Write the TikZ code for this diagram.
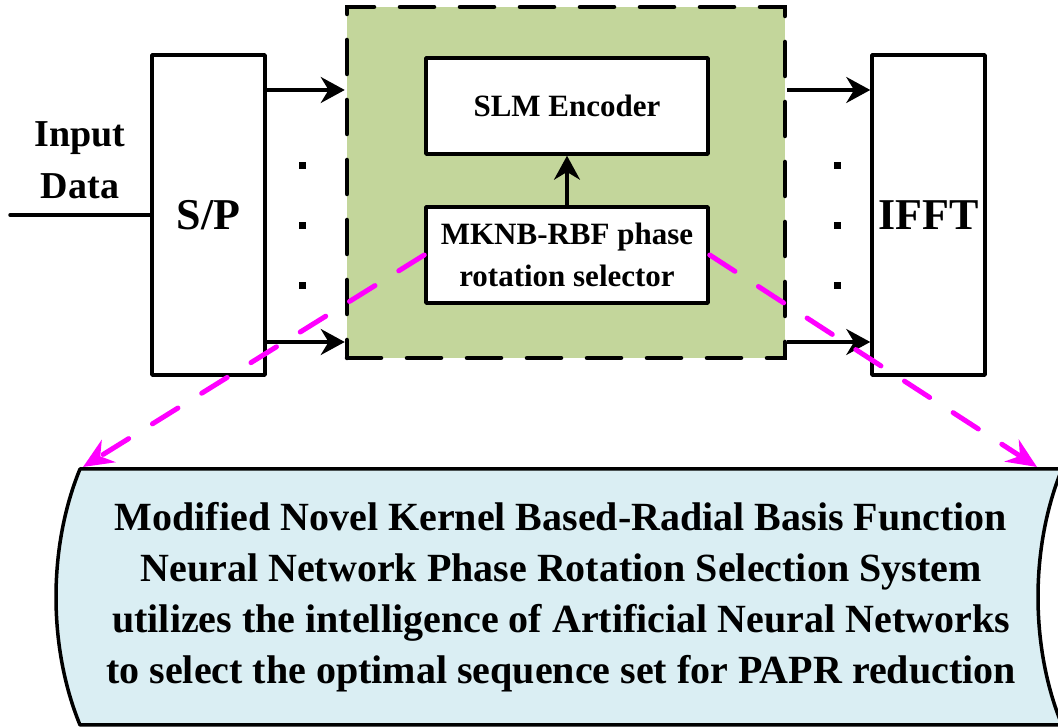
\documentclass[tikz,border=0pt]{standalone}
\usepackage{fontspec}
\setmainfont{Liberation Serif}
\usetikzlibrary{positioning,arrows.meta,calc}
\definecolor{chainfill}{HTML}{C3D69B}
\definecolor{notefill}{HTML}{DAEEF3}
\definecolor{zoomcolor}{HTML}{FF00FF}
\newcommand{\PortFont}{\fontsize{44pt}{50pt}\selectfont\bfseries}
\newcommand{\BlockFont}{\fontsize{31pt}{42pt}\selectfont\bfseries}
\newcommand{\InputFont}{\fontsize{38pt}{52pt}\selectfont\bfseries}
\newcommand{\NoteFont}{\fontsize{40pt}{51pt}\selectfont\bfseries}
\tikzset{
  port block/.style={
    draw, fill=white, line width=3.5pt, inner sep=0pt, line join=round,
    minimum width=113pt, minimum height=320pt, font=\PortFont
  },
  inner block/.style={
    draw, fill=white, line width=3.5pt, inner sep=0pt, align=center,
    line join=round, minimum width=282pt, minimum height=96pt,
    font=\BlockFont
  },
  chain box/.style={
    draw, fill=chainfill, line width=4.5pt, line cap=round,
    dash pattern=on 34pt off 26pt,
    minimum width=438pt, minimum height=351pt, inner sep=0pt
  },
  flow arrow/.style={-{Stealth[length=24pt,width=26pt]}, line width=3.5pt},
  zoom arrow/.style={
    -{Stealth[length=30pt,width=26pt]}, draw=zoomcolor, line width=5pt,
    line cap=round, dash pattern=on 30pt off 28pt
  },
  dotmark/.style={fill, minimum size=7pt, inner sep=0pt},
  note box/.style={draw, fill=notefill, line width=3.5pt, line join=round}
}

\begin{document}
\begin{tikzpicture}[x=1pt,y=1pt]
  \useasboundingbox (0,0) rectangle (1058,727);

  % serial to parallel, the encoder chain, IFFT
  \node[port block] (sp) at (208.5,512) {S/P};
  \node[port block] (ifft) at (928.5,512) {IFFT};
  \node[chain box] (chain) at (566,544.5) {};
  \node[inner block] (slm) at (567,621) {SLM Encoder};
  \node[inner block] (mknb) at (567,472) {MKNB-RBF phase\\rotation selector};

  \node[font=\InputFont, align=center] (inlabel) at (80,567) {Input\\Data};
  \coordinate (datain) at (10,512);
  \draw[line width=3.5pt, line cap=round] (datain) -- (sp.west);

  \coordinate (rowtop) at (0,637);
  \coordinate (rowbot) at (0,385);
  \draw[flow arrow] (sp.east |- rowtop) -- (chain.west |- rowtop);
  \draw[flow arrow] (sp.east |- rowbot) -- (chain.west |- rowbot);
  \draw[flow arrow] (chain.east |- rowtop) -- (ifft.west |- rowtop);
  \draw[flow arrow] (chain.east |- rowbot) -- (ifft.west |- rowbot);
  \draw[flow arrow] (mknb) -- (slm);

  \foreach \y in {561,501,441} {
    \node[dotmark] (ldot\y) at (302,\y) {};
    \node[dotmark] (rdot\y) at (837,\y) {};
  }

  % description scroll under the chain
  \draw[note box] (80,258) -- (1062,258)
    .. controls (1030,180) and (1030,80) .. (1062,2)
    -- (80,2) .. controls (48,80) and (48,180) .. (80,258) -- cycle;
  \node[font=\NoteFont, align=center] (note) at (561,130)
    {Modified Novel Kernel Based-Radial Basis Function\\
     Neural Network Phase Rotation Selection System\\
     utilizes the intelligence of Artificial Neural Networks\\
     to select the optimal sequence set for PAPR reduction};

  \coordinate (noteleft) at (83,260);
  \coordinate (noteright) at (1037,260);
  \draw[zoom arrow] (mknb.west) -- (noteleft);
  \draw[zoom arrow] (mknb.east) -- (noteright);
\end{tikzpicture}
\end{document}
